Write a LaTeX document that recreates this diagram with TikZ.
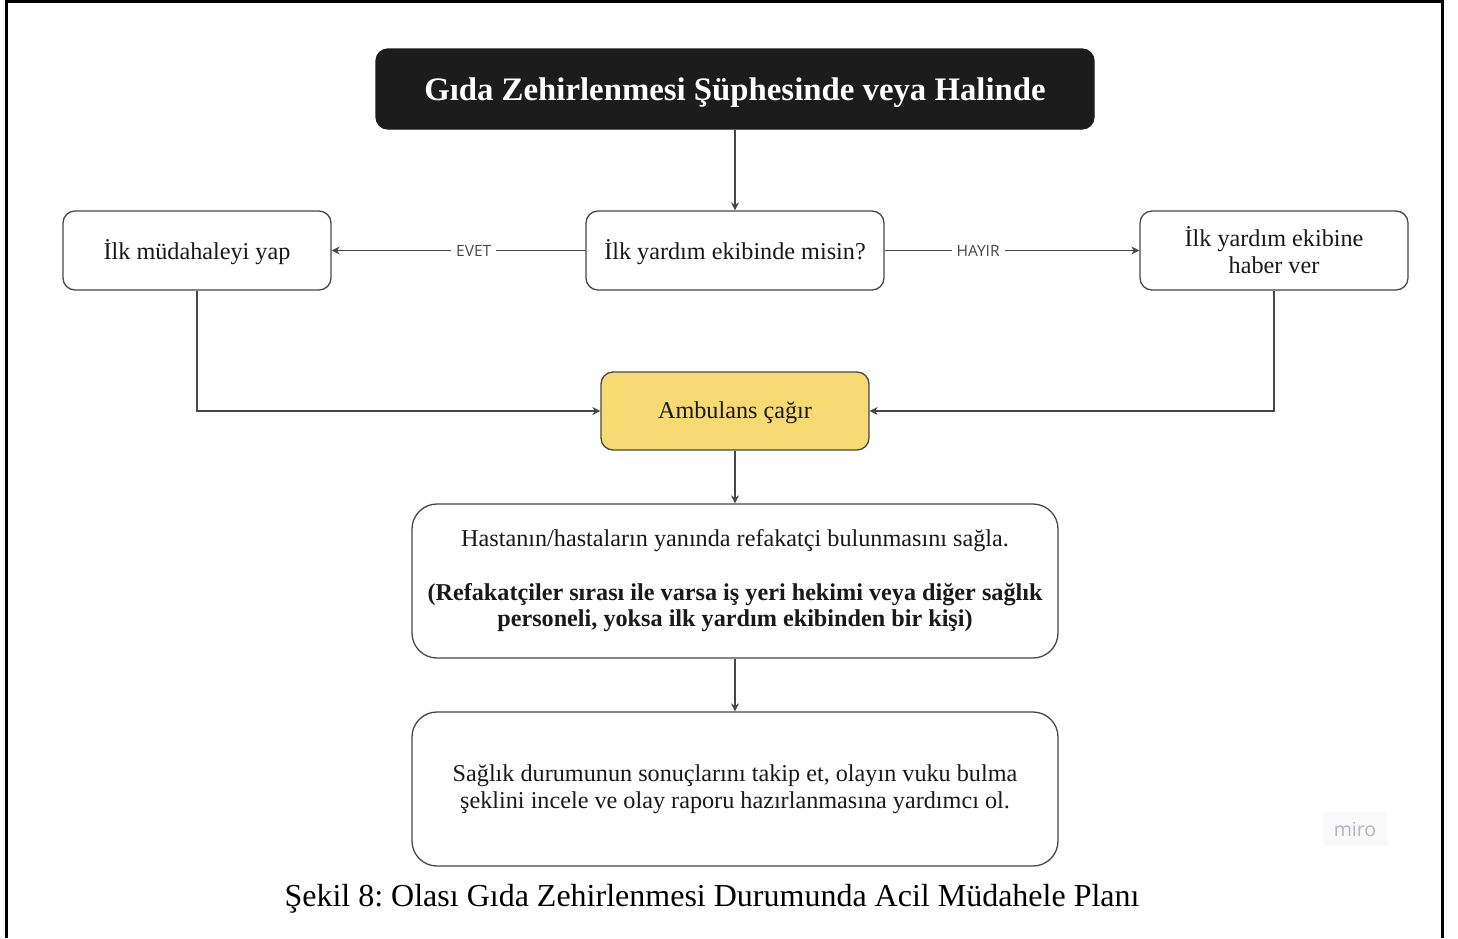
\documentclass[tikz,border=0pt]{standalone}
\usepackage{fontspec}
\setmainfont{Liberation Serif}
\newfontfamily\labelfont{Open Sans}
\usetikzlibrary{arrows.meta}
\definecolor{edge}{HTML}{474747}
\definecolor{amb}{HTML}{F7DA74}
\definecolor{titlebg}{HTML}{1C1C1C}
\definecolor{mirotext}{HTML}{B4B4C4}
\definecolor{mirobg}{HTML}{F9F9FB}
\frenchspacing
\newcommand{\dropit}[2]{\raisebox{-#1}[\height][\depth]{#2}}
\begin{document}
\begin{tikzpicture}[x=1pt,y=-1pt,
  box/.style={draw=edge, line width=1.3pt, rounded corners=12pt, fill=white, align=center,
    inner sep=0pt, font=\fontsize{24.2}{27}\selectfont, text=black!90},
  conn/.style={draw=edge, line width=1.2pt, -{Stealth[length=8pt,width=8pt]}},
  lbl/.style={fill=white, font=\labelfont\fontsize{15.5}{17}\selectfont, text=edge, inner sep=5pt}]
\useasboundingbox (0,0) rectangle (1458,938);
\draw[line width=3pt] (6,938) -- (6,1.5) -- (1442,1.5) -- (1442,938);

\node[box, draw=titlebg, fill=titlebg, text=white, minimum width=718pt, minimum height=80pt,
  font=\fontsize{32.8}{36}\selectfont\bfseries] (title) at (735,89) {\dropit{4pt}{Gıda Zehirlenmesi Şüphesinde veya Halinde}};
\node[box, minimum width=268pt, minimum height=79pt] (left) at (197,250.5) {\dropit{1.5pt}{İlk müdahaleyi yap}};
\node[box, minimum width=298pt, minimum height=79pt] (center) at (735,250.5) {\dropit{1.5pt}{İlk yardım ekibinde misin?}};
\node[box, minimum width=268pt, minimum height=79pt] (right) at (1274,250.5) {İlk yardım ekibine\\haber ver};
\node[box, fill=amb, minimum width=268pt, minimum height=78pt] (amb) at (735,411) {\dropit{2pt}{Ambulans çağır}};
\node[box, rounded corners=25pt, minimum width=646pt, minimum height=154pt,
  font=\fontsize{24.2}{26.7}\selectfont] (care) at (735,581)
  {Hastanın/hastaların yanında refakatçi bulunmasını sağla.\\[26.7pt]
   \textbf{(Refakatçiler sırası ile varsa iş yeri hekimi veya diğer sağlık}\\
   \textbf{personeli, yoksa ilk yardım ekibinden bir kişi)}};
\node[box, rounded corners=25pt, minimum width=646pt, minimum height=154pt,
  font=\fontsize{24.2}{27}\selectfont] (follow) at (735,789)
  {Sağlık durumunun sonuçlarını takip et, olayın vuku bulma\\
   şeklini incele ve olay raporu hazırlanmasına yardımcı ol.};

\draw[conn] (title) -- (center);
\draw[conn] (center) -- node[lbl, pos=0.44]{EVET} (left);
\draw[conn] (center) -- node[lbl, pos=0.367]{HAYIR} (right);
\draw[conn] (left.south) |- (amb.west);
\draw[conn] (right.south) |- (amb.east);
\draw[conn] (amb) -- (care);
\draw[conn] (care) -- (follow);

\node[fill=mirobg, text=mirotext, font=\labelfont\fontsize{19.5}{20}\selectfont, minimum width=64pt, minimum height=34pt, inner sep=0pt] (miro) at (1355,829) {miro};
\node[font=\fontsize{32}{36}\selectfont, inner sep=0pt] (caption) at (712,899) {Şekil 8: Olası Gıda Zehirlenmesi Durumunda Acil Müdahele Planı};
\end{tikzpicture}
\end{document}
